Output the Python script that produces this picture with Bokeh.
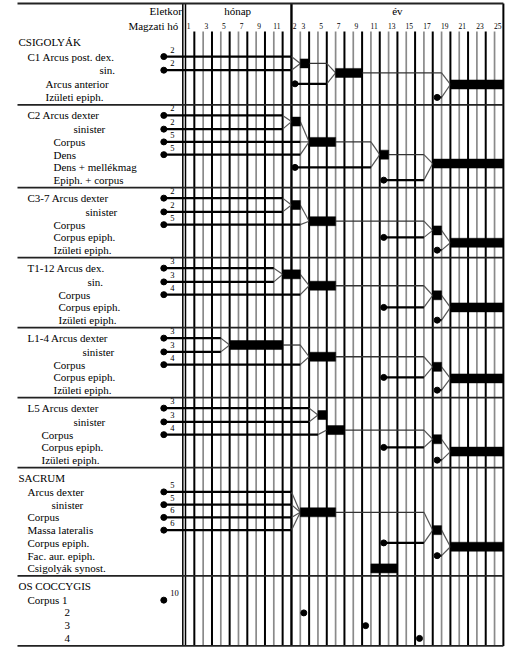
from bokeh.plotting import figure
from bokeh.models import Range1d
from bokeh.core.properties import value
from bokeh.embed import file_html
from bokeh.resources import INLINE

# ------------------------------------------------------------------ data
MONTH_TICKS = [1, 3, 5, 7, 9, 11]
YEAR_TICKS = [2, 3, 5, 7, 9, 11, 13, 15, 17, 19, 21, 23, 25]

ROW_LABELS = [
    ["CSIGOLYÁK", "C1 Arcus post. dex.", "sin.", "Arcus anterior", "Izületi epiph."],
    ["C2 Arcus dexter", "sinister", "Corpus", "Dens", "Dens + mellékmag", "Epiph. + corpus"],
    ["C3-7 Arcus dexter", "sinister", "Corpus", "Corpus epiph.", "Izületi epiph."],
    ["T1-12 Arcus dex.", "sin.", "Corpus", "Corpus epiph.", "Izületi epiph."],
    ["L1-4 Arcus dexter", "sinister", "Corpus", "Corpus epiph.", "Izületi epiph."],
    ["L5 Arcus dexter", "sinister", "Corpus", "Corpus epiph.", "Izületi epiph."],
    ["SACRUM", "Arcus dexter", "sinister", "Corpus", "Massa lateralis",
     "Corpus epiph.", "Fac. aur. epiph.", "Csigolyák synost."],
    ["OS COCCYGIS", "Corpus 1", "2", "3", "4"],
]

# ossification centres: row, fetal month of appearance (labelled) or postnatal age in years
DOT_ROWS = [
    [1, 2, 3, 4],
    [0, 1, 2, 3, 4, 5],
    [0, 1, 2, 3, 4],
    [0, 1, 2, 3, 4],
    [0, 1, 2, 3, 4],
    [0, 1, 2, 3, 4],
    [1, 2, 3, 4, 5, 6],
    [1, 2, 3, 4],
]
DOT_FETAL_MONTH = [
    [2, 2, None, None],
    [2, 2, 5, 5, None, None],
    [2, 2, 5, None, None],
    [3, 3, 4, None, None],
    [3, 3, 4, None, None],
    [3, 3, 4, None, None],
    [5, 5, 6, 6, None, None],
    [10, None, None, None],
]
DOT_AGE_YEARS = [
    [None, None, 1.4, 17.5],
    [None, None, None, None, 1.4, 11.45],
    [None, None, None, 11.45, 17.5],
    [None, None, None, 11.45, 17.5],
    [None, None, None, 11.45, 17.5],
    [None, None, None, 11.45, 17.5],
    [None, None, None, None, 11.45, 17.5],
    [None, 2.4, 9.4, 15.5],
]

# fusion periods (age in years, from - to), row level, and the parts that fuse
BAR_GROUP = [0, 0, 0, 1, 1, 1, 1, 2, 2, 2, 2, 3, 3, 3, 3, 4, 4, 4, 4, 5, 5, 5, 5, 6, 6, 6, 6]
BAR_ID = ["A", "B", "C", "D", "E", "F", "G", "H", "I", "J", "K", "L", "M", "N", "O",
          "P", "Q", "R", "S", "T", "U", "V", "W", "X", "Y", "Z", "SYN"]
BAR_FROM = [2, 6, 19, 1, 3, 11, 17, 1, 3, 17, 19, 11 / 12, 3, 17, 19,
            5 / 12, 3, 17, 19, 4, 5, 17, 19, 2, 17, 19, 10]
BAR_TO = [3, 9, 25, 2, 6, 12, 25, 2, 6, 18, 25, 2, 6, 18, 25,
          11 / 12, 6, 18, 25, 5, 7, 18, 25, 6, 18, 25, 13]
BAR_ROW = [1.5, 2.2, 3.05, 0.45, 2, 3, 3.7, 0.5, 1.73, 2.45, 3.42, 0.45, 1.3, 2.05, 3,
           0.5, 1.38, 2.17, 3.08, 0.5, 1.64, 2.36, 3.33, 2.6, 4, 5.3, 7]
BAR_INPUTS = [["d1", "d2"], ["A", "d3"], ["B", "d4"],
              ["d0", "d1"], ["D", "d2", "d3"], ["E", "d4"], ["F", "d5"],
              ["d0", "d1"], ["H", "d2"], ["I", "d3"], ["J", "d4"],
              ["d0", "d1"], ["L", "d2"], ["M", "d3"], ["N", "d4"],
              ["d0", "d1"], ["P", "d2"], ["Q", "d3"], ["R", "d4"],
              ["d0", "d1"], ["T", "d2"], ["U", "d3"], ["V", "d4"],
              ["d1", "d2", "d3", "d4"], ["X", "d5"], ["Y", "d6"], []]

# ------------------------------------------------------------------ layout
W, H = 509, 652
COL_PX = 8.83
ORIGIN_PX = 185.0
LEFT_PX = 17.0
FETAL_X_PX = 163.3
HEADER_TOP = 3.0
HEADER_BOTTOM = 31.0
GROUP_PITCH = [13.6] + [12.75] * 7
LABEL_INDENT_PX = [
    [18, 27, 99, 45, 45],
    [27, 73, 53, 53, 53, 53],
    [27, 85, 53, 53, 53],
    [27, 87, 58, 58, 58],
    [27, 82, 53, 53, 53],
    [27, 73, 41, 41, 41],
    [18, 27, 51, 27, 27, 27, 27, 27],
    [18, 27, 64, 64, 64],
]


def px2x(px):
    return (px - ORIGIN_PX) / COL_PX


def age_x(a):
    return 12 * a if a <= 1 else a + 11


def row_y(top, f, pitch):
    return top + 10.5 + min(f, 1.0) * 1.0 + f * pitch


FETAL_X = px2x(FETAL_X_PX)
XL = px2x(LEFT_PX)
XR = 36.0

tops = []
t = HEADER_BOTTOM
for g, labs in enumerate(ROW_LABELS):
    tops.append(t)
    t = row_y(t, len(labs) - 1, GROUP_PITCH[g]) + 7.5
BOTTOM = t

p = figure(width=W, height=H, x_range=Range1d(px2x(0), px2x(W)), y_range=Range1d(H, 0),
           output_backend="svg", toolbar_location=None, min_border=0)
p.axis.visible = False
p.grid.visible = False
p.outline_line_color = None

SERIF = value("Liberation Serif")

# grid
blk_x, gry_x = [], []
for x in range(1, 36):
    if x == 12:
        continue
    if (x < 12 and x % 2 == 1) or (x > 12 and x % 2 == 0):
        blk_x.append(x)
    else:
        gry_x.append(x)
p.segment(x0=gry_x, y0=[HEADER_BOTTOM] * len(gry_x), x1=gry_x, y1=[BOTTOM] * len(gry_x),
          line_color="#8a8a8a", line_width=1.7)
p.segment(x0=blk_x, y0=[HEADER_BOTTOM] * len(blk_x), x1=blk_x, y1=[BOTTOM] * len(blk_x),
          line_color="black", line_width=2.0)
fx = [px2x(182.3), 0, 12, XR]
p.segment(x0=fx, y0=[HEADER_TOP] * 4, x1=fx, y1=[BOTTOM] * 4, line_color="black",
          line_width=[1.5, 1.5, 2.4, 2.0])
# horizontal rules
hy = [HEADER_TOP] + tops[1:] + [BOTTOM]
p.segment(x0=[XL] * len(hy), y0=hy, x1=[XR] * len(hy), y1=hy, line_color="#222222", line_width=1.8)

thick = dict(x0=[], y0=[], x1=[], y1=[])
thin = dict(x0=[], y0=[], x1=[], y1=[])
diag = dict(x0=[], y0=[], x1=[], y1=[])
bars = dict(left=[], right=[], top=[], bottom=[])
dots = dict(x=[], y=[])
flab = dict(x=[], y=[], text=[])
rl = dict(x=[], y=[], text=[])


def add(d, a, b, c, e):
    d["x0"].append(a); d["y0"].append(b); d["x1"].append(c); d["y1"].append(e)


BAR_H = 4.5
for g, labs in enumerate(ROW_LABELS):
    top, pitch = tops[g], GROUP_PITCH[g]
    for i, lab in enumerate(labs):
        rl["x"].append(px2x(LABEL_INDENT_PX[g][i])); rl["y"].append(row_y(top, i, pitch))
        rl["text"].append(lab)
    nodes = {}
    for r, fm, age in zip(DOT_ROWS[g], DOT_FETAL_MONTH[g], DOT_AGE_YEARS[g]):
        x = FETAL_X if fm is not None else age_x(age)
        y = row_y(top, r, pitch)
        nodes["d%d" % r] = (x, y, True)
        dots["x"].append(x); dots["y"].append(y)
        if fm is not None:
            flab["x"].append(px2x(FETAL_X_PX + 6.5)); flab["y"].append(y - 7)
            flab["text"].append(str(fm))
    for k in range(len(BAR_ID)):
        if BAR_GROUP[k] != g:
            continue
        x0, x1 = age_x(BAR_FROM[k]), age_x(BAR_TO[k])
        y = row_y(top, BAR_ROW[k], pitch)
        bars["left"].append(x0); bars["right"].append(x1)
        bars["top"].append(y - BAR_H); bars["bottom"].append(y + BAR_H)
        for inp in BAR_INPUTS[k]:
            sx, sy, is_dot = nodes[inp]
            knee = x0 - 1
            if sx < knee:
                add(thick if is_dot else thin, sx, sy, knee, sy)
                add(diag, knee, sy, x0, y)
            elif sx < x0:
                add(diag, sx, sy, x0, y)
        nodes[BAR_ID[k]] = (x1, y, False)

p.segment(**diag, line_color="#555555", line_width=1.2)
p.segment(**thin, line_color="#333333", line_width=1.3)
p.segment(**thick, line_color="black", line_width=2.3)
p.quad(**bars, fill_color="black", line_color="black", line_width=0.5)
p.scatter(**dots, size=6, color="black")

p.text(x=flab["x"], y=flab["y"], text=flab["text"], text_font=SERIF,
       text_font_size=value("8.5px"), text_align="left", text_baseline="middle", text_color="black")
p.text(x=rl["x"], y=rl["y"], text=rl["text"], text_font=SERIF,
       text_font_size=value("11px"), text_align="left", text_baseline="middle", text_color="black")

# header
p.text(x=[px2x(181.5), px2x(180.5)], y=[10.5, 25], text=["Eletkor", "Magzati  hó"], text_font=SERIF,
       text_font_size=value("11px"), text_align="right", text_baseline="middle", text_color="black")
p.text(x=[5.9, 24.0], y=[10, 10], text=["hónap", "év"], text_font=SERIF,
       text_font_size=value("11px"), text_align="center", text_baseline="middle", text_color="black")
tx = [m - 0.5 - 0.15 for m in MONTH_TICKS] + [yv + 10.5 - 0.15 for yv in YEAR_TICKS]
tt = [str(m) for m in MONTH_TICKS] + [str(yv) for yv in YEAR_TICKS]
p.text(x=tx, y=[25] * len(tx), text=tt, text_font=SERIF, text_font_size=value("7.5px"),
       text_align="center", text_baseline="middle", text_color="black")

open("out.html", "w").write(file_html(p, INLINE))
